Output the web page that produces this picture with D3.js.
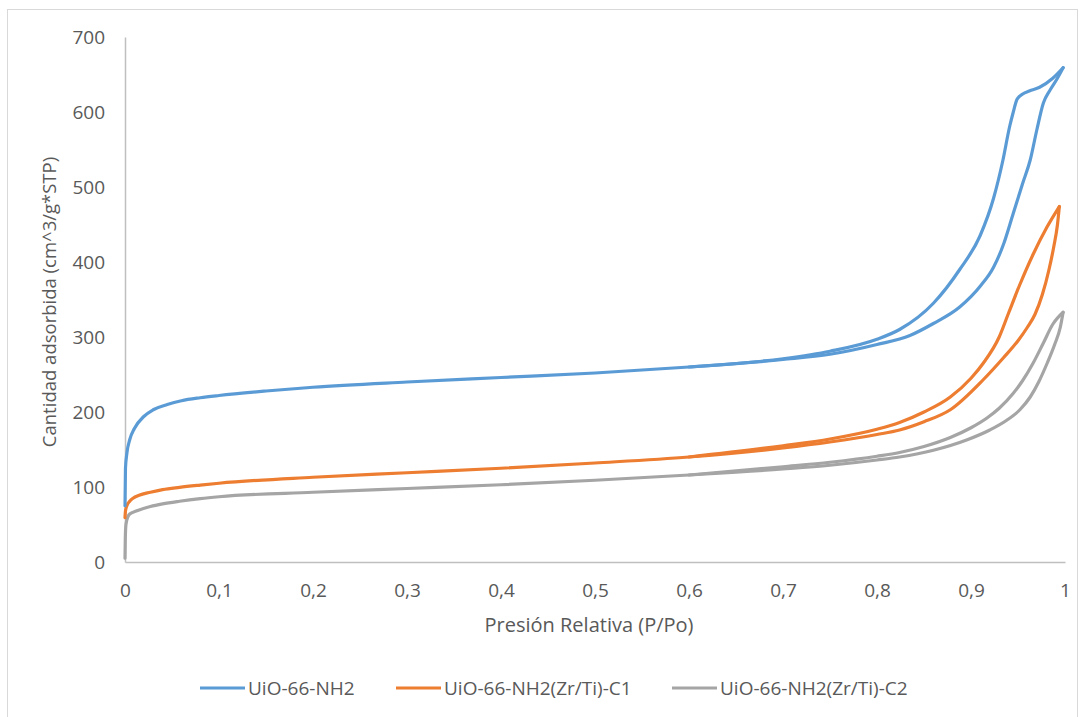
<!DOCTYPE html>
<html>
<head>
<meta charset="utf-8">
<script src="https://cdn.jsdelivr.net/npm/d3@7"></script>
<style>
  html, body { margin: 0; padding: 0; background: #fff; }
  svg { display: block; }
  text { font-family: "Open Sans", "Noto Sans", "Liberation Sans", sans-serif; fill: #595959; }
</style>
</head>
<body>
<svg id="chart" width="1086" height="717"></svg>
<script>
// N2 isotherms: relative pressure (P/Po) vs adsorbed amount (cm^3/g STP)
const seriesNames = ["UiO-66-NH2", "UiO-66-NH2(Zr/Ti)-C1", "UiO-66-NH2(Zr/Ti)-C2"];
const seriesColors = ["#5B9BD5", "#ED7D31", "#A5A5A5"];

// UiO-66-NH2 adsorption branch
const uioAdsP = [0, 0.0005, 0.002, 0.005, 0.01, 0.02, 0.03, 0.045, 0.06, 0.08, 0.1, 0.15, 0.2, 0.3, 0.4, 0.5, 0.6, 0.7, 0.75, 0.8, 0.835, 0.86, 0.888, 0.91, 0.924, 0.935, 0.945, 0.955, 0.963, 0.97, 0.977, 0.984, 0.991, 0.998];
const uioAdsV = [75, 125, 145, 163, 178, 194, 203, 210, 215, 219, 222, 228, 233, 240, 246, 252, 260, 270, 277, 290, 302, 318, 340, 368, 393, 425, 465, 505, 536, 576, 612, 629, 643, 659];
// UiO-66-NH2 desorption branch
const uioDesP = [0.6, 0.7, 0.75, 0.8, 0.824, 0.86, 0.888, 0.91, 0.924, 0.934, 0.941, 0.945, 0.949, 0.955, 0.962, 0.973, 0.987, 0.998];
const uioDesV = [260, 271, 281, 297, 310, 345, 390, 436, 485, 536, 580, 600, 617, 624, 628, 633, 645, 659];

// UiO-66-NH2(Zr/Ti)-C1 adsorption branch
const c1AdsP = [0, 0.0005, 0.002, 0.005, 0.0085, 0.015, 0.027, 0.04, 0.058, 0.08, 0.1, 0.2, 0.3, 0.4, 0.5, 0.6, 0.7, 0.75, 0.8, 0.824, 0.85, 0.878, 0.913, 0.935, 0.95, 0.96, 0.968, 0.976, 0.983, 0.988, 0.992, 0.994];
const c1AdsV = [59, 68, 75, 81, 85, 89, 93, 96.5, 99.5, 102.5, 105, 113, 119, 125, 132, 140, 152, 160, 170, 176, 187, 203, 243, 273, 295, 313, 330, 357, 390, 420, 450, 474];
// UiO-66-NH2(Zr/Ti)-C1 desorption branch
const c1DesP = [0.6, 0.7, 0.75, 0.8, 0.824, 0.85, 0.878, 0.9, 0.913, 0.93, 0.94, 0.952, 0.966, 0.981, 0.994];
const c1DesV = [140, 155, 164, 177, 186, 200, 220, 245, 265, 300, 332, 370, 410, 447, 474];

// UiO-66-NH2(Zr/Ti)-C2 adsorption branch
const c2AdsP = [0, 0.0003, 0.001, 0.003, 0.005, 0.012, 0.027, 0.04, 0.058, 0.08, 0.1, 0.2, 0.3, 0.4, 0.5, 0.6, 0.7, 0.75, 0.8, 0.824, 0.86, 0.896, 0.92, 0.938, 0.952, 0.963, 0.972, 0.981, 0.989, 0.995, 0.998];
const c2AdsV = [5, 30, 50, 60, 64, 68, 74, 77.5, 81, 84.5, 87, 93, 98, 103, 109, 116, 124, 129, 136, 140, 149, 163, 176, 189, 203, 220, 240, 265, 290, 313, 333];
// UiO-66-NH2(Zr/Ti)-C2 desorption branch
const c2DesP = [0.6, 0.7, 0.75, 0.8, 0.824, 0.85, 0.878, 0.9, 0.917, 0.93, 0.945, 0.955, 0.966, 0.977, 0.987, 0.998];
const c2DesV = [116, 127, 133, 141, 146, 154, 166, 179, 192, 205, 225, 242, 265, 292, 317, 333];

const xTicks = [0, 0.1, 0.2, 0.3, 0.4, 0.5, 0.6, 0.7, 0.8, 0.9, 1];
const yTicks = [0, 100, 200, 300, 400, 500, 600, 700];
const xTitle = "Presión Relativa (P/Po)";
const yTitle = "Cantidad adsorbida (cm^3/g*STP)";

const svg = d3.select("#chart");

// chart frame
svg.append("rect")
  .attr("x", 7.5).attr("y", 9.5)
  .attr("width", 1070).attr("height", 720)
  .attr("fill", "#fff").attr("stroke", "#D9D9D9").attr("stroke-width", 1);

const x = d3.scaleLinear().domain([0, 1]).range([125, 1065]);
const y = d3.scaleLinear().domain([0, 700]).range([562, 37]);

// axes: line only, no tick marks
const xAxis = d3.axisBottom(x).tickValues(xTicks).tickSize(0).tickPadding(22)
  .tickFormat(d => String(d).replace(".", ","));
const gx = svg.append("g").attr("transform", `translate(0,${y(0)})`).call(xAxis);
gx.select(".domain").attr("stroke", "#BFBFBF").attr("stroke-width", 1.5);
gx.selectAll("text").attr("font-size", 19).style("fill", "#595959")
  .attr("font-family", "'Open Sans', 'Noto Sans', sans-serif");

const yAxis = d3.axisLeft(y).tickValues(yTicks).tickSize(0).tickPadding(20);
const gy = svg.append("g").attr("transform", `translate(${x(0)},0)`).call(yAxis);
gy.select(".domain").attr("stroke", "#BFBFBF").attr("stroke-width", 1.5);
gy.selectAll("text").attr("font-size", 19).style("fill", "#595959")
  .attr("font-family", "'Open Sans', 'Noto Sans', sans-serif");

// axis titles
svg.append("text")
  .attr("x", 589).attr("y", 632)
  .attr("text-anchor", "middle")
  .attr("font-size", 20)
  .text(xTitle);
svg.append("text")
  .attr("transform", "translate(56,302) rotate(-90)")
  .attr("text-anchor", "middle")
  .attr("font-size", 18.5)
  .text(yTitle);

// curves
const line = d3.line()
  .x(d => x(d[0]))
  .y(d => y(d[1]))
  .curve(d3.curveMonotoneX);

const zip = (a, b) => a.map((v, i) => [v, b[i]]);
const branches = [
  { s: 0, pts: zip(uioAdsP, uioAdsV) },
  { s: 0, pts: zip(uioDesP, uioDesV) },
  { s: 1, pts: zip(c1AdsP, c1AdsV) },
  { s: 1, pts: zip(c1DesP, c1DesV) },
  { s: 2, pts: zip(c2AdsP, c2AdsV) },
  { s: 2, pts: zip(c2DesP, c2DesV) }
];

const plot = svg.append("g");
[2, 1, 0].forEach(s => {
  branches.filter(b => b.s === s).forEach(b => {
    plot.append("path")
      .attr("d", line(b.pts))
      .attr("fill", "none")
      .attr("stroke", seriesColors[s])
      .attr("stroke-width", 3.2)
      .attr("stroke-linejoin", "round")
      .attr("stroke-linecap", "round");
  });
});

// legend
const legendX = [200, 396, 672];
const legend = svg.append("g");
seriesNames.forEach((name, i) => {
  const g = legend.append("g").attr("transform", `translate(${legendX[i]},688)`);
  g.append("line").attr("x1", 0).attr("x2", 45).attr("y1", 0).attr("y2", 0)
    .attr("stroke", seriesColors[i]).attr("stroke-width", 3);
  g.append("text").attr("x", 48).attr("y", 7).attr("font-size", 19).text(name);
});
</script>
</body>
</html>
